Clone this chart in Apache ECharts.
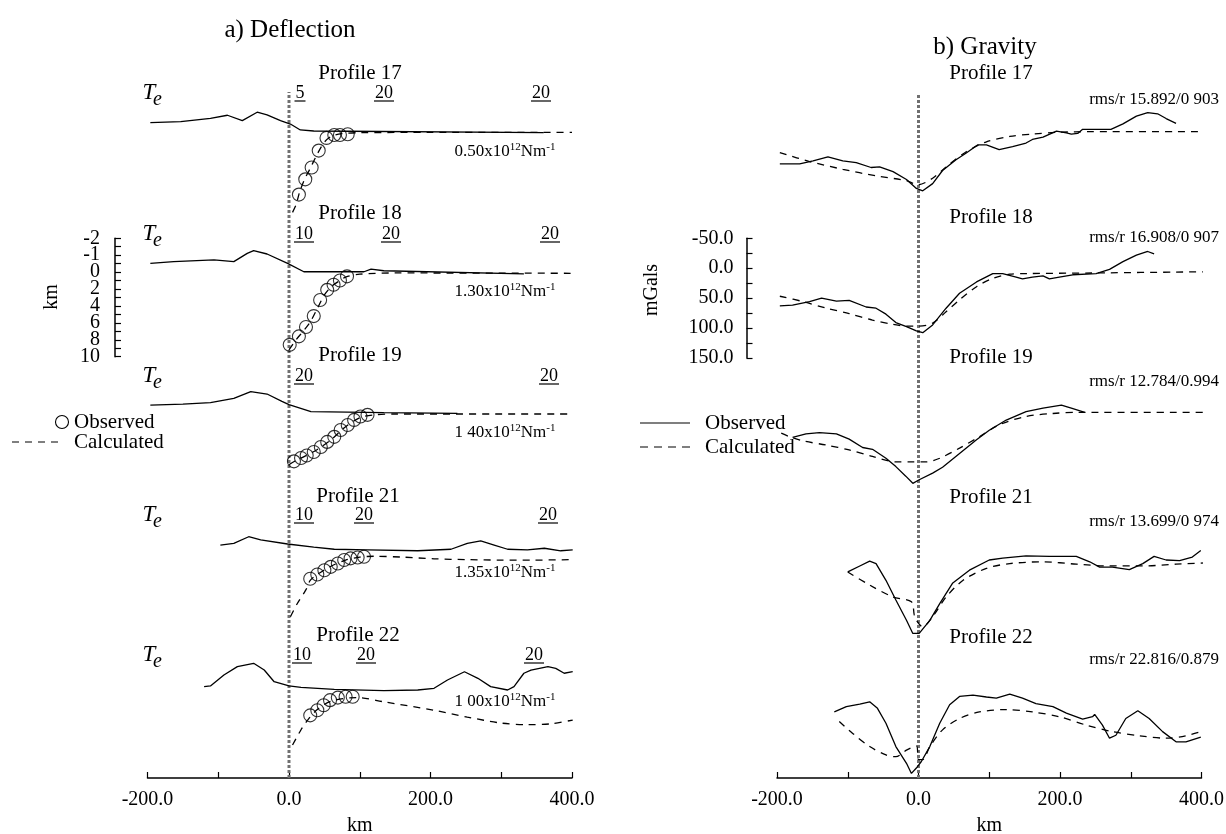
<!DOCTYPE html>
<html>
<head>
<meta charset="utf-8">
<script src="https://cdn.jsdelivr.net/npm/echarts@6/dist/echarts.min.js"></script>
<style>
html, body { margin: 0; padding: 0; background: #fff; }
#chart { width: 1226px; height: 834px; }
</style>
</head>
<body>
<div id="chart"></div>
<script>
// ---------- data (km along profile, deflection in km down, topography in km up, gravity in mGal) ----------
const kmTicks = [-200, -100, 0, 100, 200, 300, 400];
const profiles = ['Profile 17', 'Profile 18', 'Profile 19', 'Profile 21', 'Profile 22'];
const rigidity = ['0.50', '1.30', '1 40', '1.35', '1 00'];
const rmsText = ['rms/r 15.892/0 903', 'rms/r 16.908/0 907', 'rms/r 12.784/0.994', 'rms/r 13.699/0 974', 'rms/r 22.816/0.879'];
const teValues = [['5', '20', '20'], ['10', '20', '20'], ['20', '20'], ['10', '20', '20'], ['10', '20', '20']];
const zeroLine = [[0, 0], [0, 1]];

// a) deflection
const topo17 = [[-196, 0.55], [-153, 0.61], [-111, 0.81], [-87, 0.99], [-66, 0.67], [-45, 1.17], [-31, 1.01], [-12, 0.67], [2, 0.47], [16, 0.12], [35, 0.06], [360, -0.04]];
const obs17 = [[14, 7.4], [23, 5.6], [32, 4.2], [42, 2.2], [53, 0.7], [64, 0.35], [72, 0.35], [83, 0.27]];
const calc17 = [[5, 9.5], [10, 8.6], [15, 7.1], [22, 5.6], [30, 4.3], [40, 2.6], [50, 1.2], [60, 0.5], [75, 0.2], [100, 0.08], [200, 0.05], [400, 0.05]];

const topo18 = [[-196, 0.52], [-163, 0.62], [-106, 0.72], [-78, 0.62], [-59, 1.11], [-50, 1.27], [-31, 1.07], [-2, 0.52], [21, 0.02], [106, 0.02], [116, 0.17], [134, 0.08], [332, -0.11]];
const obs18 = [[1, 8.6], [14, 7.6], [24, 6.5], [35, 5.2], [44, 3.3], [54, 2.1], [63, 1.5], [72, 1.0], [82, 0.5]];
const calc18 = [[0, 9.2], [10, 8.0], [20, 7.0], [30, 5.9], [40, 4.3], [50, 2.7], [60, 1.7], [70, 1.1], [80, 0.6], [100, 0.25], [150, 0.1], [400, 0.14]];

const topo19 = [[-196, 0.53], [-150, 0.58], [-111, 0.67], [-78, 0.92], [-54, 1.32], [-31, 1.18], [-10, 0.75], [0, 0.55], [31, 0.14], [134, 0.08], [238, 0.04]];
const obs19 = [[7, 5.6], [17, 5.2], [25, 4.9], [35, 4.5], [45, 3.9], [54, 3.3], [64, 2.7], [73, 1.9], [83, 1.3], [92, 0.7], [101, 0.3], [111, 0.1]];
const calc19 = [[0, 6.0], [10, 5.5], [20, 5.1], [40, 4.2], [60, 3.0], [80, 1.5], [100, 0.45], [120, 0.1], [150, 0], [400, 0]];

const topo21 = [[-97, 0.59], [-78, 0.69], [-57, 1.08], [-40, 0.89], [-2, 0.65], [35, 0.46], [64, 0.34], [111, 0.3], [182, 0.25], [229, 0.34], [252, 0.69], [271, 0.83], [290, 0.59], [309, 0.34], [337, 0.3], [361, 0.4], [384, 0.25], [401, 0.3]];
const obs21 = [[30, 2.8], [40, 2.3], [50, 1.8], [59, 1.4], [69, 1.0], [78, 0.6], [87, 0.4], [97, 0.3], [106, 0.2]];
const calc21 = [[2, 7.3], [12, 5.7], [24, 4.1], [30, 3.0], [40, 2.3], [60, 1.3], [80, 0.6], [100, 0.25], [120, 0.15], [160, 0.25], [205, 0.45], [252, 0.55], [300, 0.6], [347, 0.6], [401, 0.55]];

const topo22 = [[-120, 0.2], [-111, 0.24], [-92, 0.89], [-73, 1.38], [-50, 1.58], [-35, 1.18], [-21, 0.49], [0, 0.24], [17, 0.16], [64, 0.04], [134, -0.04], [182, 0], [205, 0.1], [224, 0.59], [248, 1.08], [267, 0.69], [285, 0.2], [309, 0], [318, 0.2], [332, 0.99], [342, 1.18], [366, 1.38], [377, 1.28], [389, 0.99], [401, 1.08]];
const obs22 = [[30, 3.0], [40, 2.4], [49, 1.8], [58, 1.2], [69, 0.9], [80, 0.8], [90, 0.8]];
const calc22 = [[5, 6.5], [17, 4.7], [26, 3.6], [40, 2.3], [60, 1.3], [97, 0.9], [134, 1.4], [205, 2.4], [252, 3.2], [299, 3.9], [337, 4.1], [370, 4.0], [401, 3.55]];

// b) gravity
const gObs17 = [[-196, 59], [-168, 59], [-149, 54], [-128, 47], [-107, 54], [-88, 57], [-67, 65], [-55, 64], [-36, 72], [-17, 85], [-3, 100], [6, 104], [20, 92], [34, 70], [53, 52], [67, 41], [84, 27], [96, 27], [114, 35], [133, 30], [152, 24], [161, 18], [176, 14], [195, 4], [209, 7], [216, 9], [225, 8], [232, 1], [251, 1], [272, 1], [289, -8], [308, -21], [324, -27], [338, -25], [350, -17], [364, -9]];
const gCalc17 = [[-196, 40], [-154, 55], [-107, 68], [-60, 79], [-17, 87], [-1, 94], [20, 83], [39, 64], [67, 39], [96, 22], [129, 13], [161, 9], [199, 6], [246, 5], [406, 5]];

const gObs18 = [[-196, 63], [-178, 62], [-154, 56], [-137, 50], [-116, 55], [-98, 54], [-74, 65], [-60, 67], [-46, 77], [-32, 91], [-17, 98], [-3, 105], [6, 108], [20, 95], [39, 67], [58, 42], [82, 23], [105, 9], [119, 9], [138, 15], [147, 18], [161, 15], [176, 13], [185, 18], [199, 15], [218, 11], [251, 9], [270, 2], [289, -11], [308, -22], [324, -28], [333, -24]];
const gCalc18 = [[-196, 47], [-163, 56], [-130, 67], [-98, 76], [-65, 87], [-36, 94], [-17, 97], [1, 97], [20, 92], [39, 73], [58, 53], [82, 31], [105, 17], [129, 10], [152, 9], [246, 8], [404, 6]];

const gObs19 = [[-178, 47], [-159, 41], [-140, 39], [-116, 41], [-98, 50], [-79, 64], [-65, 67], [-46, 82], [-32, 96], [-18, 112], [-8, 124], [1, 118], [20, 107], [34, 97], [58, 74], [82, 51], [100, 35], [124, 18], [152, 4], [176, -2], [202, -7], [216, -2], [235, 5]];
const gCalc19 = [[-194, 40], [-182, 46], [-163, 53], [-130, 60], [-98, 68], [-65, 79], [-32, 88], [-13, 88], [11, 88], [30, 82], [58, 65], [86, 46], [114, 26], [152, 12], [190, 7], [227, 5], [404, 5]];

const gObs21 = [[-100, 20], [-83, 10], [-69, 2], [-60, 6], [-46, 34], [-32, 67], [-17, 101], [-8, 123], [1, 123], [16, 101], [30, 73], [48, 39], [72, 17], [100, 0], [119, -3], [152, -7], [185, -6], [223, -6], [242, 3], [256, 12], [274, 12], [298, 16], [317, 6], [333, -6], [350, 0], [369, 1], [387, -5], [399, -16]];
const gCalc21 = [[-100, 20], [-69, 42], [-36, 62], [-10, 70], [-6, 92], [-3, 101], [6, 112], [20, 95], [39, 62], [63, 34], [96, 14], [129, 6], [176, 3], [223, 7], [270, 10], [317, 10], [364, 7], [402, 5]];

const gObs22 = [[-119, 20], [-102, 11], [-83, 7], [-69, 3], [-58, 14], [-46, 39], [-32, 78], [-17, 106], [-10, 123], [-3, 114], [4, 103], [16, 78], [30, 39], [44, 8], [58, -6], [77, -8], [96, -5], [110, -3], [129, -10], [147, -3], [166, 6], [190, 11], [209, 22], [232, 32], [246, 28], [249, 24], [260, 42], [270, 64], [279, 59], [293, 31], [310, 18], [326, 31], [345, 53], [364, 70], [378, 70], [399, 62]];
const gCalc22 = [[-112, 36], [-93, 56], [-69, 78], [-46, 92], [-32, 95], [-17, 84], [-3, 77], [0, 100], [6, 100], [16, 78], [34, 50], [58, 31], [86, 20], [124, 16], [161, 20], [199, 28], [237, 42], [274, 53], [312, 60], [350, 64], [378, 60], [399, 53]];

// ---------- layout ----------
const FONT = '"Liberation Serif", "Times New Roman", serif';
const leftBase = [132, 272.1, 414, 555, 690];    // pixel row of zero deflection
const rightZero = [128.7, 268.2, 409.3, 560, 700]; // pixel row of 0 mGal
const defPx = 118.4 / 14;
const mgPx = 119.4 / 200;
const LX = { left: 147.5, width: 424.5 };
const RX = { left: 777, width: 424.5 };

const deflection = [
  { topo: topo17, obs: obs17, calc: calc17 },
  { topo: topo18, obs: obs18, calc: calc18 },
  { topo: topo19, obs: obs19, calc: calc19 },
  { topo: topo21, obs: obs21, calc: calc21 },
  { topo: topo22, obs: obs22, calc: calc22 }
];
const gravity = [
  { obs: gObs17, calc: gCalc17 },
  { obs: gObs18, calc: gCalc18 },
  { obs: gObs19, calc: gCalc19 },
  { obs: gObs21, calc: gCalc21 },
  { obs: gObs22, calc: gCalc22 }
];

const grids = [], xAxes = [], yAxes = [], series = [];
const solid = { color: '#000', width: 1.3 };
const dashed = { color: '#000', width: 1.3, type: [7, 6] };

function mkGrid(left, width, top, height) {
  return { left: left, width: width, top: top, height: height, containLabel: false, outerBoundsMode: 'none' };
}
function hiddenX(i) {
  return { type: 'value', gridIndex: i, min: -200, max: 400, show: false };
}

// deflection grids (topography drawn at twice the deflection scale)
deflection.forEach((p, i) => {
  const gi = grids.length;
  grids.push(mkGrid(LX.left, LX.width, leftBase[i] - 4 * defPx, 14 * defPx));
  xAxes.push(hiddenX(gi));
  const y = { type: 'value', gridIndex: gi, min: -4, max: 10, inverse: true, show: false };
  if (i === 1) {
    Object.assign(y, {
      show: true, interval: 1, offset: LX.left - 115,
      axisLine: { show: true, onZero: false, lineStyle: { color: '#000', width: 1.5 } },
      axisTick: { show: true, inside: true, length: 6, lineStyle: { color: '#000', width: 1.2 } },
      axisLabel: {
        margin: 15, color: '#000', fontFamily: FONT, fontSize: 20,
        formatter: v => (v % 2 === 0 ? String(v < 0 ? v / 2 : v) : '')
      },
      splitLine: { show: false }
    });
  }
  yAxes.push(y);
  series.push({
    type: 'line', xAxisIndex: gi, yAxisIndex: gi, clip: false, showSymbol: false, silent: true,
    data: p.topo.map(d => [d[0], -2 * d[1]]), lineStyle: solid
  });
  series.push({
    type: 'line', xAxisIndex: gi, yAxisIndex: gi, clip: false, showSymbol: false, silent: true,
    smooth: 0.3, data: p.calc, lineStyle: dashed
  });
  series.push({
    type: 'scatter', xAxisIndex: gi, yAxisIndex: gi, clip: false, silent: true,
    symbol: 'circle', symbolSize: 13, data: p.obs,
    itemStyle: { color: 'rgba(0,0,0,0)', borderColor: '#000', borderWidth: 1.1 }
  });
});

// gravity grids
gravity.forEach((p, i) => {
  const gi = grids.length;
  grids.push(mkGrid(RX.left, RX.width, rightZero[i] - 50 * mgPx, 200 * mgPx));
  xAxes.push(hiddenX(gi));
  const y = { type: 'value', gridIndex: gi, min: -50, max: 150, inverse: true, show: false };
  if (i === 1) {
    Object.assign(y, {
      show: true, interval: 25, offset: RX.left - 746.5,
      axisLine: { show: true, onZero: false, lineStyle: { color: '#000', width: 1.5 } },
      axisTick: { show: true, inside: true, length: 6, lineStyle: { color: '#000', width: 1.2 } },
      axisLabel: {
        margin: 13, color: '#000', fontFamily: FONT, fontSize: 20,
        formatter: v => (v % 50 === 0 ? v.toFixed(1) : '')
      },
      splitLine: { show: false }
    });
  }
  yAxes.push(y);
  series.push({
    type: 'line', xAxisIndex: gi, yAxisIndex: gi, clip: false, showSymbol: false, silent: true,
    data: p.obs, lineStyle: solid
  });
  series.push({
    type: 'line', xAxisIndex: gi, yAxisIndex: gi, clip: false, showSymbol: false, silent: true,
    smooth: 0.3, data: p.calc, lineStyle: dashed
  });
});

// bottom km axes + the dashed trench line at 0 km
[[LX, 92], [RX, 95]].forEach(([pos, top]) => {
  const gi = grids.length;
  grids.push(mkGrid(pos.left, pos.width, top, 778 - top));
  xAxes.push({
    type: 'value', gridIndex: gi, min: -200, max: 400, interval: 100,
    name: 'km', nameLocation: 'middle', nameGap: 38,
    nameTextStyle: { color: '#000', fontFamily: FONT, fontSize: 20 },
    axisLine: { onZero: false, lineStyle: { color: '#000', width: 1.5 } },
    axisTick: { inside: true, length: 6, lineStyle: { color: '#000', width: 1.2 } },
    axisLabel: {
      margin: 12, color: '#000', fontFamily: FONT, fontSize: 20,
      formatter: v => (kmTicks.indexOf(v) >= 0 && v % 200 === 0 ? v.toFixed(1) : '')
    },
    splitLine: { show: false }
  });
  yAxes.push({ type: 'value', gridIndex: gi, min: 0, max: 1, show: false });
  series.push({
    type: 'line', xAxisIndex: gi, yAxisIndex: gi, showSymbol: false, silent: true, z: 1,
    data: zeroLine, lineStyle: { color: '#707070', width: 3, type: [3, 2] }
  });
});

// ---------- annotations ----------
function txt(x, y, text, size, extra) {
  return {
    type: 'text', x: x, y: y, silent: true,
    style: Object.assign({
      text: text, font: size + 'px ' + FONT, fill: '#000',
      textAlign: 'center', textVerticalAlign: 'middle', align: 'center', verticalAlign: 'middle'
    }, extra || {})
  };
}
function line(x1, y1, x2, y2, dash) {
  return {
    type: 'line', silent: true,
    shape: { x1: x1, y1: y1, x2: x2, y2: y2 },
    style: { stroke: '#000', lineWidth: 1.2, lineDash: dash || null }
  };
}

const graphic = [];
graphic.push(txt(290, 30, 'a) Deflection', 25));
graphic.push(txt(985, 47, 'b) Gravity', 25));

const leftProfileX = [360, 360, 360, 358, 358];
const leftProfileY = [73, 213, 355, 496, 635];
const rightProfileY = [73, 217, 357, 497, 637];
const teY = [93, 234, 376, 515, 655];
const teX = [[300, 384, 541], [304, 391, 550], [304, 549], [304, 364, 548], [302, 366, 534]];
const rigY = [152, 292, 433, 573, 702];
const rmsY = [100, 238, 382, 522, 660];

profiles.forEach((name, i) => {
  graphic.push(txt(leftProfileX[i], leftProfileY[i], name, 21));
  graphic.push(txt(991, rightProfileY[i], name, 21));
  // T_e
  graphic.push(txt(149, teY[i], 'T', 23, { font: 'italic 23px ' + FONT }));
  graphic.push(txt(153, teY[i] + 7, 'e', 20, { font: 'italic 20px ' + FONT, textAlign: 'left', align: 'left' }));
  teValues[i].forEach((v, k) => {
    const x = teX[i][k];
    graphic.push(txt(x, teY[i], v, 18));
    const w = v.length * 9 + 2;
    graphic.push(line(x - w / 2, teY[i] + 8, x + w / 2, teY[i] + 8));
  });
  // rigidity label
  graphic.push({
    type: 'text', x: 505, y: rigY[i], silent: true,
    style: {
      text: rigidity[i] + 'x10{s|12}Nm{s|-1}', font: '17px ' + FONT, fill: '#000',
      textAlign: 'center', textVerticalAlign: 'middle', align: 'center', verticalAlign: 'middle',
      lineHeight: 20,
      rich: { s: { fontSize: 11, fontFamily: FONT, lineHeight: 12, verticalAlign: 'top', fill: '#000' } }
    }
  });
  graphic.push(txt(1219, rmsY[i], rmsText[i], 17, { textAlign: 'right', align: 'right' }));
});

// axis names
graphic.push({ type: 'text', x: 52, y: 297, rotation: Math.PI / 2, silent: true,
  style: { text: 'km', font: '20px ' + FONT, fill: '#000', textAlign: 'center', textVerticalAlign: 'middle', align: 'center', verticalAlign: 'middle' } });
graphic.push({ type: 'text', x: 652, y: 290, rotation: Math.PI / 2, silent: true,
  style: { text: 'mGals', font: '20px ' + FONT, fill: '#000', textAlign: 'center', textVerticalAlign: 'middle', align: 'center', verticalAlign: 'middle' } });

// legends
graphic.push({ type: 'circle', silent: true, shape: { cx: 62, cy: 422, r: 6.5 }, style: { fill: 'none', stroke: '#000', lineWidth: 1.1 } });
graphic.push(txt(74, 422, 'Observed', 21, { textAlign: 'left', align: 'left' }));
graphic.push(line(12, 442, 62, 442, [7, 6]));
graphic.push(txt(74, 442, 'Calculated', 21, { textAlign: 'left', align: 'left' }));
graphic.push(line(640, 423, 690, 423));
graphic.push(txt(705, 423, 'Observed', 21, { textAlign: 'left', align: 'left' }));
graphic.push(line(640, 447, 694, 447, [8, 6]));
graphic.push(txt(705, 447, 'Calculated', 21, { textAlign: 'left', align: 'left' }));

const chart = echarts.init(document.getElementById('chart'));
chart.setOption({
  animation: false,
  backgroundColor: '#fff',
  grid: grids,
  xAxis: xAxes,
  yAxis: yAxes,
  series: series,
  graphic: graphic
});
</script>
</body>
</html>
